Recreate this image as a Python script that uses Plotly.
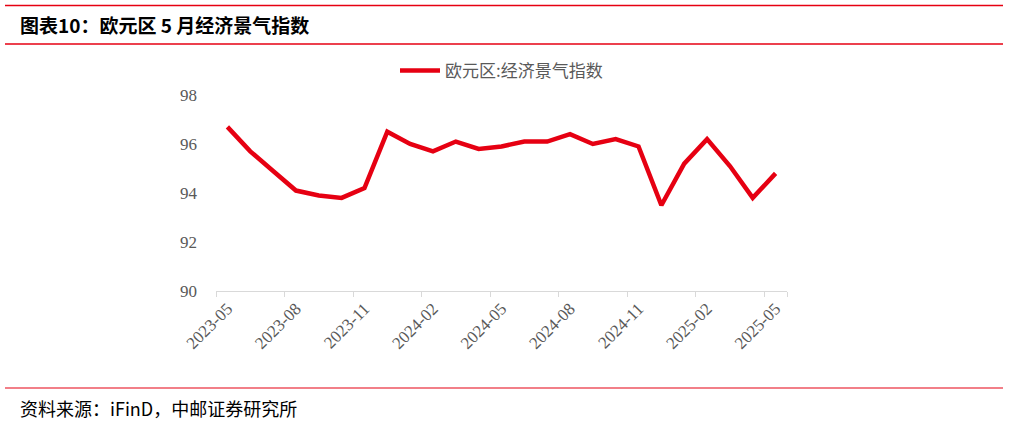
import plotly.graph_objects as go

# 欧元区经济景气指数, monthly
months = [
    "2023-05", "2023-06", "2023-07", "2023-08", "2023-09", "2023-10", "2023-11",
    "2023-12", "2024-01", "2024-02", "2024-03", "2024-04", "2024-05", "2024-06",
    "2024-07", "2024-08", "2024-09", "2024-10", "2024-11", "2024-12", "2025-01",
    "2025-02", "2025-03", "2025-04", "2025-05",
]
esi = [
    96.7, 95.7, 94.9, 94.1, 93.9, 93.8, 94.2,
    96.5, 96.0, 95.7, 96.1, 95.8, 95.9, 96.1,
    96.1, 96.4, 96.0, 96.2, 95.9, 93.5, 95.2,
    96.2, 95.1, 93.8, 94.8,
]
series_name = "欧元区:经济景气指数"
y_ticks = [90, 92, 94, 96, 98]

RED = "#e60012"
GRAY = "#595959"
CJK = "Noto Sans CJK SC"
SERIF = "Times New Roman, Liberation Serif, serif"

# plot area in pixels: x 216..787, y 95..291
PW, PH = 571, 196


def px_x(x):
    return (x - 216) / PW


def px_y(y):
    return (291 - y) / PH


fig = go.Figure()
fig.add_trace(go.Scatter(
    x=months, y=esi, name=series_name, mode="lines",
    line=dict(color=RED, width=4.5),
))

fig.update_layout(
    width=1009, height=423,
    margin=dict(l=216, r=222, t=95, b=132, autoexpand=False),
    paper_bgcolor="white", plot_bgcolor="white",
    showlegend=True,
    legend=dict(
        orientation="h", x=0.5, xanchor="center", y=px_y(71), yref="paper",
        yanchor="middle", itemwidth=40,
        font=dict(family=CJK, size=17, color=GRAY),
    ),
    xaxis=dict(
        type="category", range=[-0.5, len(months) - 0.5],
        tickmode="array", tickvals=months[::3], ticktext=months[::3],
        tickson="boundaries", ticks="outside", ticklen=5, tickcolor="#d9d9d9",
        tickangle=-45, showgrid=False, zeroline=False,
        showline=True, linecolor="#d9d9d9", linewidth=1,
        tickfont=dict(family=SERIF, size=17, color=GRAY),
    ),
    yaxis=dict(
        range=[90, 98], tickvals=y_ticks, showgrid=False, zeroline=False,
        showline=False, ticks="", ticklabelstandoff=18,
        tickfont=dict(family=SERIF, size=17, color=GRAY),
    ),
)

# 标题和来源
fig.add_annotation(
    text="<b>图表10：欧元区 5 月经济景气指数</b>", xref="paper", yref="paper",
    x=px_x(18), y=px_y(25), xanchor="left", yanchor="middle",
    showarrow=False, font=dict(family=CJK, size=19, color="black"),
)
fig.add_annotation(
    text="资料来源：iFinD，中邮证券研究所", xref="paper", yref="paper",
    x=px_x(18), y=px_y(408), xanchor="left", yanchor="middle",
    showarrow=False, font=dict(family=CJK, size=18, color="black"),
)
for yy, w in [(5.5, 1.5), (44, 1.5), (388, 1.2)]:
    fig.add_shape(
        type="line", xref="paper", yref="paper",
        x0=px_x(5), x1=px_x(1003), y0=px_y(yy), y1=px_y(yy),
        line=dict(color=RED, width=w),
    )

fig.write_html(
    "out.html",
    config={"displayModeBar": False},
    post_script="document.body.style.margin='0';",
)
